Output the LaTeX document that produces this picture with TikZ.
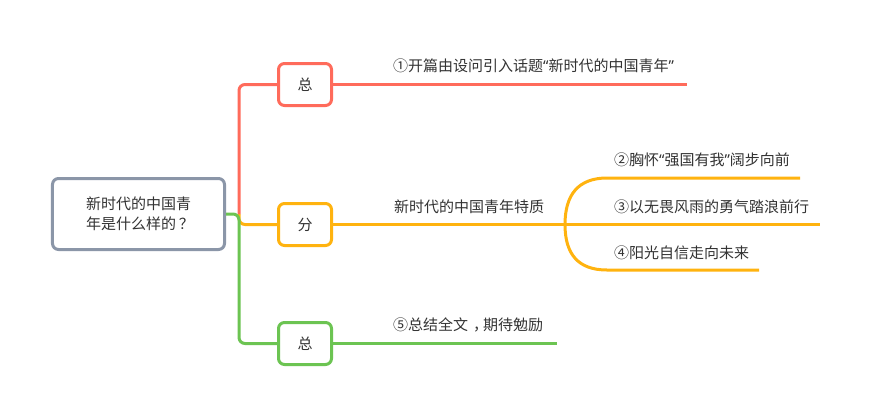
\documentclass[tikz,border=0pt]{standalone}
\usepackage{fontspec}
\newfontfamily\cjk{Noto Sans CJK SC}
\newfontfamily\lat{Noto Sans}
\definecolor{cred}{HTML}{FF6B5B}
\definecolor{corange}{HTML}{FFB30F}
\definecolor{cgreen}{HTML}{6CC452}
\definecolor{cgray}{HTML}{8B96A8}
\definecolor{tc}{HTML}{333333}
\begin{document}
\begin{tikzpicture}[x=1bp,y=-1bp,
  txt/.style={font=\cjk\fontsize{15bp}{19.5bp}\selectfont, text=tc, inner sep=0pt},
  lbl/.style={txt, anchor=west},
  box/.style={draw, line width=3bp, rounded corners=6bp, minimum width=53bp, minimum height=42bp, fill=white, txt},
  link/.style={line width=3bp, rounded corners=6bp}]
\fill[white] (0,0) rectangle (869,416);
\useasboundingbox (0,0) rectangle (869,416);

\coordinate (j) at (239,214);
\coordinate (e1) at (687,84.5);
\coordinate (s) at (565,224.5);
\coordinate (e3) at (820,224.5);
\coordinate (e2) at (800,178);
\coordinate (e4) at (759,270);
\coordinate (e5) at (557,343.5);

\node[box, draw=cred] (zong1) at (305,84.5) {总};
\node[box, draw=corange] (fen) at (305,224.5) {分};
\node[box, draw=cgreen] (zong2) at (305,343.5) {总};

\draw[link, corange] (j) -- (j |- fen) -- (fen.west);
\draw[link, cred] (j) -- (j |- zong1) -- (zong1.west);
\node[box, draw=cgray, minimum width=172bp, minimum height=71bp, align=center] (root) at (138.5,214) {新时代的中国青\\年是什么样的\kern3bp？\kern-3bp};
\draw[link, cgreen] (root.east) -- (j) -- (j |- zong2) -- (zong2.west);

\draw[link, cred] (zong1.east) -- (e1);
\draw[link, corange] (fen.east) -- (e3);
\draw[line width=3bp, corange] (s) .. controls (565,195) and (578,178) .. (607,178) -- (e2);
\draw[line width=3bp, corange] (s) .. controls (565,254) and (578,270) .. (607,270) -- (e4);
\draw[link, cgreen] (zong2.east) -- (e5);

\node[lbl] (t1) at (393,66) {①开篇由设问引入话题{\lat “}新时代的中国青年{\lat ”}};
\node[lbl] (t2) at (394,207) {新时代的中国青年特质};
\node[lbl] (t3) at (614,160) {②胸怀{\lat “}强国有我{\lat ”}阔步向前};
\node[lbl] (t4) at (614,207) {③以无畏风雨的勇气踏浪前行};
\node[lbl] (t5) at (614,253) {④阳光自信走向未来};
\node[lbl] (t6) at (393,325) {⑤总结全文\kern5bp，\kern-5bp期待勉励};
\end{tikzpicture}
\end{document}
